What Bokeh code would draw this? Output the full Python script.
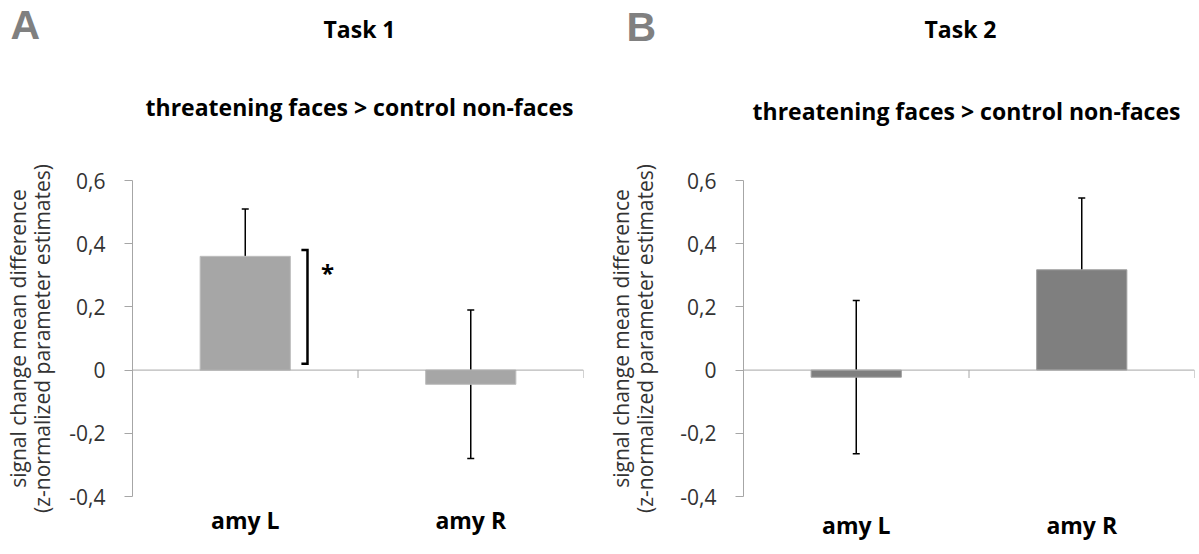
from bokeh.plotting import figure
from bokeh.models import (FixedTicker, Range1d, Span, Label, Whisker,
                          ColumnDataSource, TeeHead)
from bokeh.layouts import row, column
from bokeh.embed import file_html
from bokeh.resources import INLINE

# ---------------- data ----------------
categories = ["amy L", "amy R"]
task1_means = [0.36, -0.045]
task1_errs = [0.15, 0.235]
task2_means = [-0.0225, 0.3175]
task2_errs = [0.2425, 0.2275]
y_ticks = [-0.4, -0.2, 0, 0.2, 0.4, 0.6]
y_tick_labels = ["-0,4", "-0,2", "0", "0,2", "0,4", "0,6"]
panel_letters = ["A", "B"]
task_titles = ["Task 1", "Task 2"]
contrast_title = "threatening faces > control non-faces"
y_label = "signal change mean difference\n(z-normalized parameter estimates)"
# significance bracket for Task 1, amy L (low/high ends in data units)
sig_low, sig_high = 0.02, 0.38
sig_mark = "*"

FONT = "Open Sans"
W, H = 1199, 554
HEAD = 150          # height of the header strip holding the titles
TEXT = "#333333"


def make_panel(width, mb_left, mb_right, mb_top, mb_bottom, means, errs,
               bar_color, border_color, label_standoff, cat_standoff,
               bracket=False):
    p = figure(width=width, height=H - HEAD, output_backend="svg",
               toolbar_location=None, x_range=Range1d(0, len(categories)),
               y_range=Range1d(y_ticks[0], y_ticks[-1]),
               min_border_left=mb_left, min_border_right=mb_right,
               min_border_top=mb_top, min_border_bottom=mb_bottom)
    p.outline_line_color = None
    p.xgrid.grid_line_color = None
    p.ygrid.grid_line_color = None
    p.background_fill_color = "white"
    p.border_fill_color = "white"

    xs = [i + 0.5 for i in range(len(categories))]
    lower = [m - e for m, e in zip(means, errs)]
    upper = [m + e for m, e in zip(means, errs)]
    src = ColumnDataSource(dict(x=xs, top=means, lower=lower, upper=upper))

    p.vbar(x="x", top="top", bottom=0, width=0.4, source=src,
           fill_color=bar_color, line_color=border_color, line_width=1)

    # zero line (category axis) and category boundary ticks
    p.add_layout(Span(location=0, dimension="width", line_color="#a6a6a6",
                      line_width=1))
    bx = [i + 1 for i in range(len(categories))]
    p.segment(x0=bx, y0=[0] * len(bx), x1=bx, y1=[-0.025] * len(bx),
              line_color="#a6a6a6", line_width=1)

    w = Whisker(source=src, base="x", upper="upper", lower="lower",
                line_color="black", line_width=1.5,
                upper_head=TeeHead(size=7, line_color="black", line_width=1.5),
                lower_head=TeeHead(size=7, line_color="black", line_width=1.5))
    p.add_layout(w)

    if bracket:
        bxv = 0.776
        serif = 0.027
        p.line([bxv - serif, bxv, bxv, bxv - serif],
               [sig_high, sig_high, sig_low, sig_low],
               line_color="black", line_width=2.5, line_join="miter")
        p.add_layout(Label(x=0.865, y=0.31,
                           text=sig_mark, text_align="center",
                           text_baseline="middle",
                           text_font=FONT, text_font_style="bold",
                           text_font_size="24px", text_color="black"))

    # y axis
    ya = p.yaxis[0]
    ya.ticker = FixedTicker(ticks=y_ticks)
    ya.major_label_overrides = {t: l for t, l in zip(y_ticks, y_tick_labels)}
    ya.axis_line_color = "#a6a6a6"
    ya.major_tick_line_color = "#a6a6a6"
    ya.major_tick_out = 8
    ya.major_tick_in = 0
    ya.minor_tick_line_color = None
    ya.major_label_text_font = FONT
    ya.major_label_text_font_size = "21px"
    ya.major_label_text_color = TEXT
    ya.major_label_standoff = 19
    ya.axis_label = y_label
    ya.axis_label_text_font = FONT
    ya.axis_label_text_font_size = "21px"
    ya.axis_label_text_font_style = "normal"
    ya.axis_label_text_color = TEXT
    ya.axis_label_text_line_height = 0.86
    ya.axis_label_standoff = label_standoff

    # x axis: category labels only
    xa = p.xaxis[0]
    xa.ticker = FixedTicker(ticks=xs)
    xa.major_label_overrides = {x: c for x, c in zip(xs, categories)}
    xa.axis_line_color = None
    xa.major_tick_line_color = None
    xa.major_tick_out = 0
    xa.major_tick_in = 0
    xa.minor_tick_line_color = None
    xa.axis_label_standoff = 0
    xa.major_label_text_font = FONT
    xa.major_label_text_font_style = "bold"
    xa.major_label_text_font_size = "23px"
    xa.major_label_text_line_height = 0.8
    xa.major_label_text_color = "black"
    xa.major_label_standoff = cat_standoff
    return p


# ---------------- header strip with the titles ----------------
head = figure(width=W, height=HEAD, output_backend="svg",
              toolbar_location=None, x_range=Range1d(0, W),
              y_range=Range1d(HEAD, 0), x_axis_location=None,
              y_axis_location=None, min_border=0)
head.grid.visible = False
head.outline_line_color = None
head.border_fill_color = "white"

letter_pos = [(10, 24.3), (626, 26.3)]
task_pos = [(359, 28), (960, 28)]
sub_pos = [(359, 106), (966, 110)]
for i in range(2):
    head.add_layout(Label(x=letter_pos[i][0], y=letter_pos[i][1],
                          text=panel_letters[i], text_align="left",
                          text_baseline="middle",
                          text_font="Liberation Sans",
                          text_font_style="bold", text_font_size="41px",
                          text_color="#808080"))
    head.add_layout(Label(x=task_pos[i][0], y=task_pos[i][1],
                          text=task_titles[i], text_align="center",
                          text_baseline="alphabetic", text_font=FONT,
                          text_font_style="bold", text_font_size="23px",
                          text_color="black"))
    head.add_layout(Label(x=sub_pos[i][0], y=sub_pos[i][1],
                          text=contrast_title, text_align="center",
                          text_baseline="alphabetic", text_font=FONT,
                          text_font_style="bold", text_font_size="23px",
                          text_color="black"))

# ---------------- panels ----------------
pa = make_panel(600, 132, 17, 180 - HEAD, 54, task1_means, task1_errs,
                "#a6a6a6", "#bdbdbd", 10, 7, bracket=True)
pb = make_panel(599, 143, 5, 175 - HEAD, 58, task2_means, task2_errs,
                "#7f7f7f", "#a0a0a0", 18, 12)

layout = column(head, row(pa, pb))
open("out.html", "w").write(file_html(layout, INLINE))
